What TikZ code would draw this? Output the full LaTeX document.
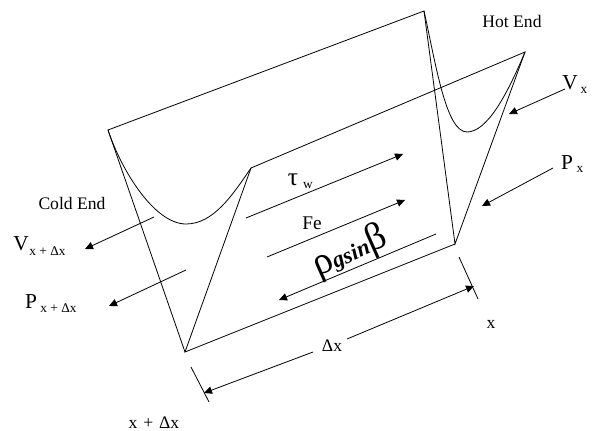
\documentclass[tikz,border=0pt]{standalone}
\usepackage{fontspec}
\setmainfont{Liberation Serif}
\usetikzlibrary{arrows.meta}
\tikzset{
	wire/.style={line width=0.6pt},
	force/.style={line width=0.6pt, -{Triangle[length=6pt,width=5.5pt]}},
	lbl/.style={inner sep=0pt, font=\fontsize{13.2}{15}\selectfont},
	sublbl/.style={inner sep=0pt, font=\fontsize{10}{11}\selectfont},
	biglbl/.style={inner sep=0pt, font=\fontsize{16}{18}\selectfont},
}

\begin{document}
\begin{tikzpicture}[x=0.75pt, y=-0.75pt]
	\useasboundingbox (0,0) rectangle (592,431);

% corners of the channel
	\coordinate (TL) at (108,130);
	\coordinate (TR) at (424,11);
	\coordinate (HT) at (525,52);
	\coordinate (CT) at (251,168);
	\coordinate (BL) at (185,352);
	\coordinate (BR) at (455,244);

	\draw[wire] (BL) -- (TL) -- (TR) -- (BR) -- (HT) -- (CT) -- (BL) -- (BR);
	\draw[wire] (TL) .. controls (122,172) and (155,224) .. (186,224) .. controls (213,224) and (232,196) .. (CT);
	\draw[wire] (TR) .. controls (436,65) and (446,132) .. (467,132) .. controls (487,132) and (507,95) .. (HT);

% forces
	\coordinate (tauA) at (246,218);	\coordinate (tauB) at (403,154);
	\coordinate (feA) at (267,257);		\coordinate (feB) at (405,200);
	\coordinate (rhoA) at (436,234);	\coordinate (rhoB) at (279,300);
	\draw[force] (tauA) -- (tauB);
	\draw[force] (feA) -- (feB);
	\draw[force] (rhoA) -- (rhoB);

	\coordinate (VcA) at (154,217);		\coordinate (VcB) at (85,249);
	\coordinate (PcA) at (186,270);		\coordinate (PcB) at (109,306);
	\coordinate (VhA) at (565,89);		\coordinate (VhB) at (509,114);
	\coordinate (PhA) at (553,168);		\coordinate (PhB) at (482,206);
	\draw[force] (VcA) -- (VcB);
	\draw[force] (PcA) -- (PcB);
	\draw[force] (VhA) -- (VhB);
	\draw[force] (PhA) -- (PhB);

% length marks
	\coordinate (tickLa) at (191,367);	\coordinate (tickLb) at (209,402);
	\coordinate (tickRa) at (459,257);	\coordinate (tickRb) at (478,299);
	\coordinate (dimLa) at (313,352);	\coordinate (dimLb) at (204,393);
	\coordinate (dimRa) at (347,339);	\coordinate (dimRb) at (474,286);
	\draw[wire] (tickLa) -- (tickLb);
	\draw[wire] (tickRa) -- (tickRb);
	\draw[force] (dimLa) -- (dimLb);
	\draw[force] (dimRa) -- (dimRb);

% labels
	\node[lbl] (hot) at (512,21) {Hot End};
	\node[lbl] (cold) at (72,203) {Cold End};
	\node[biglbl] (Vc) at (21,244) {V};
	\node[sublbl] (Vcs) at (47.5,251) {x + Δx};
	\node[biglbl] (Pc) at (31,302) {P};
	\node[sublbl] (Pcs) at (58.5,308) {x + Δx};
	\node[biglbl] (Vh) at (570,83) {V};
	\node[sublbl] (Vhs) at (584,90) {x};
	\node[biglbl] (Ph) at (567,163) {P};
	\node[sublbl] (Phs) at (580,169) {x};
	\node[inner sep=0pt, font=\fontsize{19}{21}\selectfont] (tau) at (293,180) {τ};
	\node[sublbl] (w) at (308,186) {w};
	\node[inner sep=0pt, font=\fontsize{14.5}{16}\selectfont] (fe) at (312,223) {Fe};
	\node[lbl, rotate=24] (rho) at (350,252) {{\fontsize{29}{31}\selectfont ρ}{\fontsize{17}{19}\selectfont\itshape\bfseries gsin}{\fontsize{29}{31}\selectfont β}};
	\node[lbl] (dx) at (332,346) {Δx};
	\node[lbl] (xr) at (491,324) {x};
	\node[lbl] (xl) at (154,423) {x\,\,+\,\,Δx};
\end{tikzpicture}
\end{document}
